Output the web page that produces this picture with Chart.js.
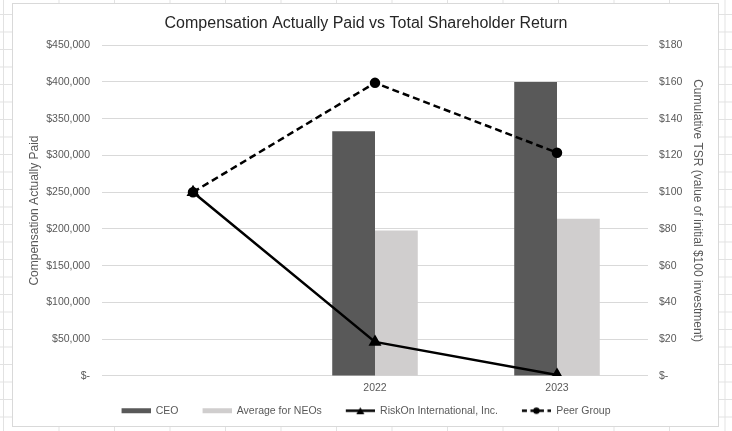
<!DOCTYPE html>
<html>
<head>
<meta charset="utf-8">
<script src="https://cdn.jsdelivr.net/npm/chart.js@4.4.1/dist/chart.umd.min.js"></script>
<style>
  html, body { margin: 0; padding: 0; }
  body {
    width: 732px; height: 431px; overflow: hidden;
    background-color: #fff;
    background-image:
      linear-gradient(to right, #e2e2e2 1px, transparent 1px),
      linear-gradient(to bottom, #e2e2e2 1px, transparent 1px);
    background-size: 55.5px 17.5px;
    background-position: 3px 14px;
  }
  #box {
    position: absolute; left: 12px; top: 3px; width: 707px; height: 424px;
    background: #fff; border: 1px solid #d9d9d9; box-sizing: border-box;
  }
</style>
</head>
<body>
<div id="box"><canvas id="chart"></canvas></div>
<script>
// chart data
const years = ["", "2022", "2023"];
const ceoPaid = [null, 333000, 400000];
const neoPaid = [null, 198000, 214000];
const riskOnTSR = [100, 18.5, 0.5];
const peerTSR = [100, 159.5, 121.5];

const FONT = "'Liberation Sans', Arial, sans-serif";
const TICK = "#595959";
const LEAD = 19; // blank lead-in before each legend symbol

// legend icons: blank lead-in, then a 29px symbol
function legendIcon(kind) {
    const c = document.createElement("canvas");
    c.width = LEAD + 29; c.height = 9;
    const g = c.getContext("2d");
    const x0 = LEAD, w = 29, mid = x0 + w / 2;
    if (kind === "ceo" || kind === "neo") {
        g.fillStyle = kind === "ceo" ? "#595959" : "#d0cece";
        g.fillRect(x0, 2, w, 5);
    } else {
        g.strokeStyle = "#000";
        g.lineWidth = 2.5;
        if (kind === "peer") g.setLineDash([5, 3.5]);
        g.beginPath(); g.moveTo(x0, 4.5); g.lineTo(x0 + w, 4.5); g.stroke();
        g.fillStyle = "#000";
        g.beginPath();
        if (kind === "risk") {
            g.moveTo(mid, 1); g.lineTo(mid + 4, 8); g.lineTo(mid - 4, 8); g.closePath();
        } else {
            g.arc(mid, 4.5, 3.2, 0, Math.PI * 2);
        }
        g.fill();
    }
    return c;
}
const icons = [legendIcon("ceo"), legendIcon("neo"), legendIcon("risk"), legendIcon("peer")];

// the lead-in pushes the legend row right, pull it back by half of it
const legendShift = {
    id: "legendShift",
    afterLayout(chart) {
        chart.legend.left -= LEAD / 2;
        chart.legend.right -= LEAD / 2;
    }
};

const ctx = document.getElementById("chart").getContext("2d");
new Chart(ctx, {
    data: {
        labels: years,
        datasets: [
            {
                type: "line", label: "RiskOn International, Inc.", data: riskOnTSR, yAxisID: "y2",
                borderColor: "#000", backgroundColor: "#000", borderWidth: 2.5,
                pointStyle: "triangle", pointRadius: 5, pointHoverRadius: 5, order: 1
            },
            {
                type: "line", label: "Peer Group", data: peerTSR, yAxisID: "y2",
                borderColor: "#000", backgroundColor: "#000", borderWidth: 2.5, borderDash: [7, 4],
                pointStyle: "circle", pointRadius: 4, pointHoverRadius: 4, order: 2
            },
            {
                type: "bar", label: "CEO", data: ceoPaid, yAxisID: "y",
                backgroundColor: "#595959", order: 3
            },
            {
                type: "bar", label: "Average for NEOs", data: neoPaid, yAxisID: "y",
                backgroundColor: "#d0cece", order: 4
            }
        ]
    },
    plugins: [legendShift],
    options: {
        responsive: true,
        maintainAspectRatio: false,
        animation: false,
        layout: { padding: { left: 10, right: 9, top: 0, bottom: 0 } },
        datasets: { bar: { categoryPercentage: 0.47, barPercentage: 1.0 } },
        plugins: {
            title: {
                display: true,
                text: "Compensation Actually Paid vs Total Shareholder Return",
                color: "#262626",
                font: { family: FONT, size: 16, weight: "normal" },
                padding: { top: 10, bottom: 12 }
            },
            legend: {
                position: "bottom",
                labels: {
                    color: TICK,
                    font: { family: FONT, size: 10.5 },
                    usePointStyle: true,
                    pointStyleWidth: LEAD + 29,
                    padding: 5,
                    generateLabels: function (chart) {
                        const order = ["CEO", "Average for NEOs", "RiskOn International, Inc.", "Peer Group"];
                        return order.map(function (name, i) {
                            const idx = chart.data.datasets.findIndex(d => d.label === name);
                            return {
                                text: name, pointStyle: icons[i], datasetIndex: idx,
                                fillStyle: "transparent", strokeStyle: "transparent", lineWidth: 0,
                                hidden: false, fontColor: TICK
                            };
                        });
                    }
                }
            },
            tooltip: { enabled: false }
        },
        scales: {
            x: {
                offset: true,
                grid: { display: false, drawTicks: false },
                border: { display: false },
                ticks: { color: TICK, font: { family: FONT, size: 10.5 }, padding: 6 }
            },
            y: {
                position: "left",
                min: 0, max: 450000,
                afterFit: s => { s.width = 79; },
                ticks: {
                    stepSize: 50000, color: TICK, padding: 12,
                    font: { family: FONT, size: 10.5 },
                    callback: v => v === 0 ? "$-" : "$" + v.toLocaleString("en-US")
                },
                grid: { color: "#d9d9d9", drawTicks: false },
                border: { display: false },
                title: {
                    display: true, text: "Compensation Actually Paid", color: TICK,
                    font: { family: FONT, size: 12 }, padding: { top: 4, bottom: 4 }
                }
            },
            y2: {
                position: "right",
                min: 0, max: 180,
                afterFit: s => { s.width = 61; },
                ticks: {
                    stepSize: 20, color: TICK, padding: 11,
                    font: { family: FONT, size: 10.5 },
                    callback: v => v === 0 ? "$-" : "$" + v
                },
                grid: { drawOnChartArea: false, drawTicks: false },
                border: { display: false },
                title: {
                    display: true, text: "Cumulative TSR (value of initial $100 investment)", color: TICK,
                    font: { family: FONT, size: 12 }, padding: { top: 4, bottom: 4 }
                }
            }
        }
    }
});
</script>
</body>
</html>
